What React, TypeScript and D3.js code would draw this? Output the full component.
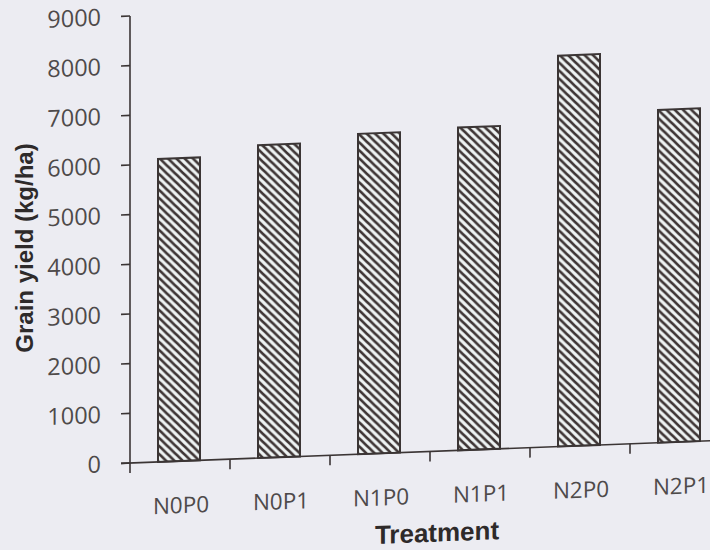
import React from 'react';
import * as d3 from 'd3';

const categories = ['N0P0', 'N0P1', 'N1P0', 'N1P1', 'N2P0', 'N2P1'];
const yields = [6100, 6300, 6450, 6500, 7870, 6700];
const yTicks = [0, 1000, 2000, 3000, 4000, 5000, 6000, 7000, 8000, 9000];
const xTitle = 'Treatment';
const yTitle = 'Grain yield (kg/ha)';

export default function App() {
  const W = 710;
  const H = 550;
  const ox = 130;
  const oy = 463;
  const x = d3.scaleBand<string>().domain(categories).range([ox, ox + 600]);
  const y = d3.scaleLinear().domain([0, 9000]).range([oy, 16]);
  const bw = x.bandwidth() * 0.42;
  const skew = -2.2;
  const axisColor = '#3b3535';
  const textColor = '#4e4a4a';
  const boundaries = categories.map((c) => x(c) as number).concat([ox + 600]);

  return (
    <svg width={W} height={H} style={{ position: 'absolute', left: 0, top: 0 }}>
      <defs>
        <pattern id="hatch" patternUnits="userSpaceOnUse" width={8} height={8}>
          <rect width={8} height={8} fill="#eef3f3" />
          <path d="M0,0 L8,8 M-2,6 L2,10 M6,-2 L10,2" stroke="#3d3434" strokeWidth={2.6} />
        </pattern>
      </defs>
      <rect width={W} height={H} fill="#ececf2" />
      <g transform={`translate(${ox},${oy}) skewY(${skew}) translate(${-ox},${-oy})`}>
        {categories.map((c, i) => {
          const cx = (x(c) as number) + x.bandwidth() / 2 - 1;
          return (
            <rect
              key={c}
              x={cx - bw / 2}
              y={y(yields[i])}
              width={bw}
              height={oy - y(yields[i])}
              fill="url(#hatch)"
              stroke={axisColor}
              strokeWidth={2}
            />
          );
        })}
        {/* y axis */}
        <line x1={ox} x2={ox} y1={y(9000)} y2={oy + 10} stroke={axisColor} strokeWidth={1.6} />
        {yTicks.map((t) => (
          <g key={t}>
            <line x1={ox - 9} x2={ox} y1={y(t)} y2={y(t)} stroke={axisColor} strokeWidth={1.6} />
            <text
              x={ox - 29}
              y={y(t)}
              dy="0.36em"
              textAnchor="end"
              fontFamily="'Open Sans', sans-serif"
              fontSize={23.5}
              fill={textColor}
            >
              {t}
            </text>
          </g>
        ))}
        {/* x axis */}
        <line x1={ox - 9} x2={ox + 600} y1={oy} y2={oy} stroke={axisColor} strokeWidth={1.6} />
        {boundaries.slice(1).map((b, i) => (
          <line key={i} x1={b} x2={b} y1={oy} y2={oy + 10} stroke={axisColor} strokeWidth={1.6} />
        ))}
        {categories.map((c) => (
          <text
            key={c}
            x={(x(c) as number) + x.bandwidth() / 2 + 1}
            y={oy + 44}
            dy="0.36em"
            textAnchor="middle"
            fontFamily="'Open Sans', sans-serif"
            fontSize={22.5}
            fill={textColor}
          >
            {c}
          </text>
        ))}
        <text
          x={437}
          y={544}
          dy="0.36em"
          textAnchor="middle"
          fontFamily="'Liberation Sans', Arial, sans-serif"
          fontWeight="bold"
          fontSize={26}
          fill="#2e2a2a"
        >
          {xTitle}
        </text>
      </g>
      <text
        transform={`translate(33,248) rotate(-90)`}
        textAnchor="middle"
        fontFamily="'Liberation Sans', Arial, sans-serif"
        fontWeight="bold"
        fontSize={24}
        fill="#2e2a2a"
      >
        {yTitle}
      </text>
    </svg>
  );
}
